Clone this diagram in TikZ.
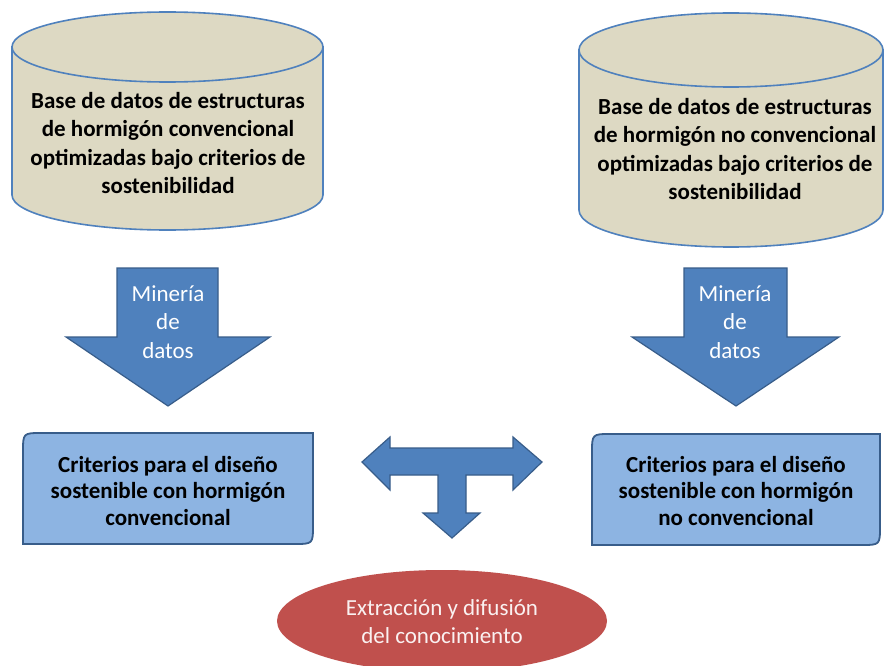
\documentclass[tikz,border=0pt]{standalone}
\usepackage{fontspec}
\setmainfont{Carlito}
\definecolor{cylfill}{RGB}{221,217,195}
\definecolor{cylline}{RGB}{79,129,189}
\definecolor{arrfill}{RGB}{79,129,189}
\definecolor{arrline}{RGB}{56,93,138}
\definecolor{boxfill}{RGB}{141,180,226}
\definecolor{boxline}{RGB}{56,93,138}
\definecolor{ellfill}{RGB}{192,80,77}
\tikzset{
  cylst/.style={fill=cylfill,draw=cylline,line width=1.6pt},
  arrst/.style={fill=arrfill,draw=arrline,line width=1.2pt,line join=miter},
  boxst/.style={fill=boxfill,draw=boxline,line width=1.8pt},
  ellst/.style={fill=ellfill,draw=none},
  darktext/.style={align=center,text=black,font=\fontsize{23}{28.5}\selectfont\bfseries},
  boxtext/.style={align=center,text=black,font=\fontsize{23}{26.5}\selectfont\bfseries},
  whitetext/.style={align=center,text=white,font=\fontsize{23}{28.5}\selectfont},
  elltext/.style={align=center,text=white!92!ellfill,font=\fontsize{23}{28}\selectfont}
}
\begin{document}
\begin{tikzpicture}[x=1pt,y=-1pt]
\clip (0,0) rectangle (884,666);
\fill[white] (0,0) rectangle (884,666);
% left cylinder
\draw[cylst] (12,47) -- (12,195) arc[start angle=180,end angle=0,x radius=155.5,y radius=35] -- (323,47) -- cycle;
\draw[cylst] (167.5,47) ellipse [x radius=155.5,y radius=35];
\node[darktext] (cylL) at (168,143) {Base de datos de estructuras\\de hormigón convencional\\optimizadas bajo criterios de\\sostenibilidad};
% right cylinder
\draw[cylst] (579,50) -- (579,210) arc[start angle=180,end angle=0,x radius=152,y radius=37] -- (883,50) -- cycle;
\draw[cylst] (731,50) ellipse [x radius=152,y radius=37];
\node[darktext] (cylR) at (735,149) {Base de datos de estructuras\\de hormigón no convencional\\optimizadas bajo criterios de\\sostenibilidad};
% mining arrows
\draw[arrst] (117,268) -- (218,268) -- (218,337) -- (270,337) -- (168,406) -- (66,337) -- (117,337) -- cycle;
\node[whitetext] (minL) at (168,322) {Minería\\de\\datos};
\draw[arrst] (684,268) -- (787,268) -- (787,337) -- (839,337) -- (736,406) -- (632,337) -- (684,337) -- cycle;
\node[whitetext] (minR) at (735,322) {Minería\\de\\datos};
% criteria boxes
\draw[boxst] (23,544) -- (23,452) .. controls (23,433) .. (42,433) -- (313,433) -- (313,525) .. controls (313,544) .. (294,544) -- cycle;
\node[boxtext] (boxL) at (168,491) {Criterios para el diseño\\sostenible con hormigón\\convencional};
\draw[boxst] (592,545) -- (592,453) .. controls (592,434) .. (611,434) -- (880,434) -- (880,526) .. controls (880,545) .. (861,545) -- cycle;
\node[boxtext] (boxR) at (736,491) {Criterios para el diseño\\sostenible con hormigón\\no convencional};
% T arrow
\draw[arrst] (362,462) -- (390,437) -- (390,448) -- (513,448) -- (513,437) -- (542,462) -- (513,490) -- (513,475) -- (466,475) -- (466,513) -- (480,513) -- (452,538) -- (423,513) -- (438,513) -- (438,475) -- (390,475) -- (390,490) -- cycle;
% ellipse
\fill[ellst] (442,621) ellipse [x radius=165,y radius=51];
\node[elltext] (ell) at (442,622) {Extracción y difusión\\del conocimiento};
\end{tikzpicture}
\end{document}
